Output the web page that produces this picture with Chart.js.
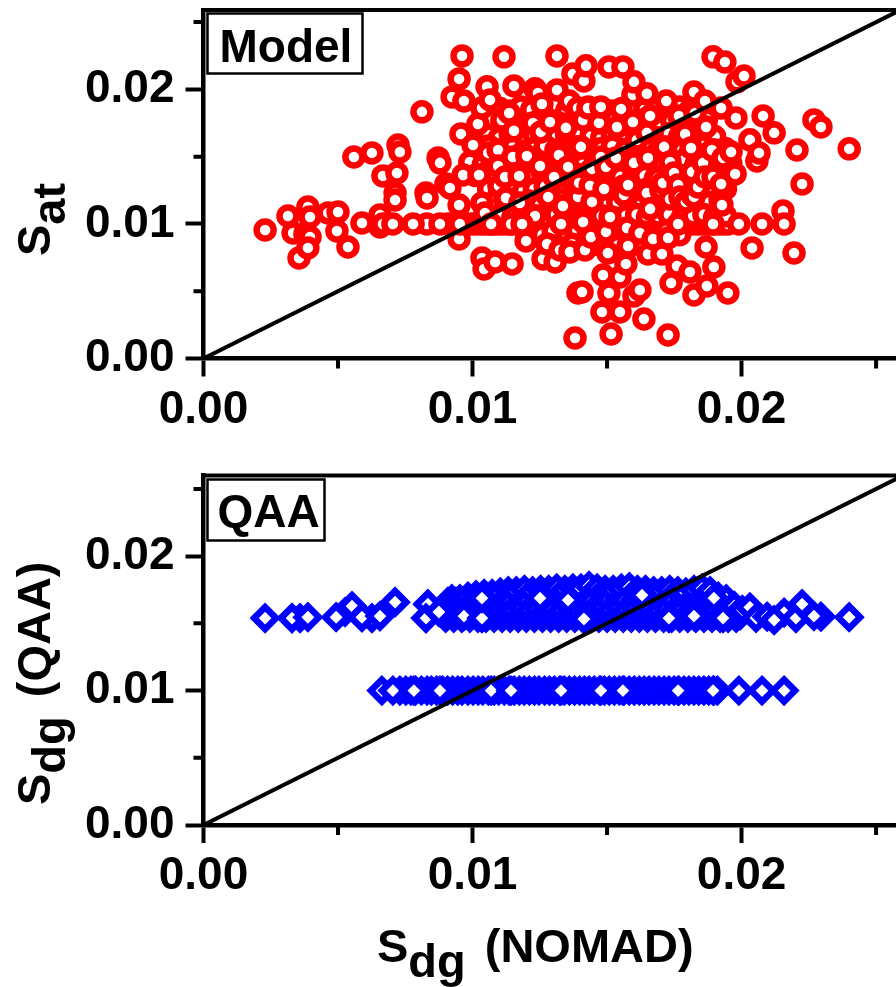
<!DOCTYPE html>
<html>
<head>
<meta charset="utf-8">
<title>Sat and Sdg against NOMAD</title>
<script src="https://cdn.jsdelivr.net/npm/chart.js@4/dist/chart.umd.min.js"></script>
<style>
	html, body { margin: 0; padding: 0; background: #fff; overflow: hidden; }
	canvas { position: absolute; left: 0; }
	#chart-model { top: 0; }
	#chart-qaa { top: 465px; }
</style>
</head>
<body>
<canvas id="chart-model" width="896" height="465"></canvas>
<canvas id="chart-qaa" width="896" height="522"></canvas>
<script>
// Values
const majorTicks = [0, 0.01, 0.02];
const minorTicks = [0.005, 0.015, 0.025];
const oneToOne = [0, 0.026];

const modelX = [
	0.00229, 0.00314, 0.00333, 0.00355, 0.00377, 0.00388, 0.00396, 0.00396, 0.00388, 0.00463,
	0.00500, 0.00496, 0.00537, 0.00589, 0.00559, 0.00626, 0.00656, 0.00656, 0.00667, 0.00719,
	0.00723, 0.00730, 0.00712, 0.00712, 0.00812, 0.00827, 0.00831, 0.00872, 0.00879, 0.00901,
	0.00916, 0.00950, 0.00950, 0.00924, 0.00950, 0.00961, 0.00968, 0.00957, 0.00965, 0.01002,
	0.01020, 0.01024, 0.01035, 0.01035, 0.01035, 0.01043, 0.01046, 0.01054, 0.01065, 0.01058,
	0.01084, 0.01095, 0.01095, 0.01098, 0.01109, 0.01117, 0.01121, 0.01124, 0.01136, 0.01147,
	0.01150, 0.01154, 0.01154, 0.01173, 0.01176, 0.01199, 0.01202, 0.01225, 0.01232, 0.01232,
	0.01243, 0.01251, 0.01254, 0.01258, 0.01262, 0.01277, 0.01281, 0.01288, 0.01303, 0.01307,
	0.01314, 0.01314, 0.01321, 0.01325, 0.01336, 0.01347, 0.01355, 0.01359, 0.01362, 0.01373,
	0.01373, 0.01381, 0.01388, 0.01392, 0.01392, 0.01392, 0.01396, 0.01403, 0.01407, 0.01411,
	0.01411, 0.01414, 0.01418, 0.01422, 0.01429, 0.01437, 0.01440, 0.01444, 0.01444, 0.01470,
	0.01477, 0.01477, 0.01481, 0.01485, 0.01489, 0.01496, 0.01496, 0.01503, 0.01507, 0.01507,
	0.01511, 0.01515, 0.01533, 0.01537, 0.01548, 0.01548, 0.01552, 0.01559, 0.01563, 0.01570,
	0.01574, 0.01578, 0.01578, 0.01596, 0.01596, 0.01600, 0.01600, 0.01600, 0.01611, 0.01622,
	0.01622, 0.01637, 0.01648, 0.01648, 0.01648, 0.01652, 0.01652, 0.01660, 0.01660, 0.01671,
	0.01689, 0.01700, 0.01704, 0.01708, 0.01712, 0.01720, 0.01727, 0.01727, 0.01734, 0.01734,
	0.01738, 0.01749, 0.01760, 0.01764, 0.01767, 0.01771, 0.01790, 0.01793, 0.01808, 0.01812,
	0.01816, 0.01816, 0.01823, 0.01823, 0.01823, 0.01827, 0.01838, 0.01857, 0.01864, 0.01864,
	0.01868, 0.01868, 0.01871, 0.01890, 0.01894, 0.01894, 0.01897, 0.01924, 0.01924, 0.01927,
	0.01931, 0.01938, 0.01949, 0.01961, 0.01976, 0.01979, 0.01983, 0.02009, 0.02031, 0.02039,
	0.02057, 0.02065, 0.02080, 0.02121, 0.02154, 0.02195, 0.02206, 0.02225, 0.02269, 0.02295,
	0.02400
];
const modelY = [
	0.00955, 0.01059, 0.00933, 0.00747, 0.00926, 0.01126, 0.01052, 0.00903, 0.00822, 0.01082,
	0.01089, 0.00948, 0.00829, 0.01007, 0.01498, 0.01528, 0.01067, 0.00978, 0.01357, 0.01379,
	0.01587, 0.01535, 0.01230, 0.01178, 0.01833, 0.01230, 0.01193, 0.01491, 0.01454, 0.01297,
	0.01268, 0.01141, 0.00888, 0.01944, 0.02078, 0.02249, 0.01914, 0.01669, 0.01364, 0.01587,
	0.01743, 0.01364, 0.01862, 0.01156, 0.00747, 0.00665, 0.01082, 0.02019, 0.01922, 0.01528,
	0.00717, 0.01550, 0.01431, 0.01283, 0.01773, 0.02242, 0.01349, 0.01193, 0.01825, 0.00703,
	0.01498, 0.02026, 0.01692, 0.01357, 0.01156, 0.00874, 0.01505, 0.01751, 0.02004, 0.01059,
	0.01974, 0.01431, 0.01684, 0.01892, 0.00740, 0.00851, 0.01201, 0.01758, 0.01349, 0.00717,
	0.02249, 0.01996, 0.01513, 0.00807, 0.01134, 0.01714, 0.01424, 0.01914, 0.00792, 0.02115,
	0.01305, 0.00152, 0.01573, 0.01862, 0.01201, 0.00487, 0.01305, 0.01573, 0.00494, 0.01773,
	0.01015, 0.02063, 0.00807, 0.02175, 0.01862, 0.01283, 0.00903, 0.01409, 0.01164, 0.01751,
	0.01870, 0.01498, 0.00346, 0.00621, 0.01260, 0.01424, 0.00941, 0.00784, 0.02167, 0.00487,
	0.01052, 0.00182, 0.01491, 0.01721, 0.00606, 0.00346, 0.01855, 0.02167, 0.01216, 0.00703,
	0.00970, 0.01290, 0.00836, 0.01959, 0.01758, 0.02056, 0.01454, 0.00465, 0.01625, 0.00933,
	0.00509, 0.00294, 0.01967, 0.01677, 0.01230, 0.01491, 0.00777, 0.01803, 0.01112, 0.00888,
	0.01342, 0.01253, 0.00777, 0.01305, 0.01573, 0.01914, 0.00896, 0.00175, 0.01460, 0.01186,
	0.00561, 0.01379, 0.00688, 0.01290, 0.01803, 0.01201, 0.01669, 0.01164, 0.00643, 0.01565,
	0.01387, 0.01216, 0.01981, 0.01201, 0.00472, 0.01825, 0.01275, 0.01454, 0.01914, 0.01349,
	0.01721, 0.00829, 0.00539, 0.01550, 0.02242, 0.01349, 0.00680, 0.01862, 0.01297, 0.01141,
	0.01491, 0.02204, 0.00487, 0.01535, 0.01372, 0.01788, 0.02056, 0.02100, 0.01625, 0.00822,
	0.01468, 0.01528, 0.01803, 0.01677, 0.01097, 0.00784, 0.01550, 0.01297, 0.01773, 0.01721,
	0.01558
];
// the packed middle of the cloud, estimated, only edges of these show
const modelPackedX = [
	0.0110, 0.0114, 0.0118, 0.0122, 0.0127, 0.0131, 0.0135, 0.0139, 0.0143, 0.0148, 0.0152, 0.0156, 0.0160, 0.0164, 0.0169, 0.0173, 0.0177, 0.0181, 0.0185,
	0.0103, 0.0107, 0.0111, 0.0116, 0.0120, 0.0124, 0.0128, 0.0132, 0.0137, 0.0141, 0.0145, 0.0149, 0.0153, 0.0158, 0.0162, 0.0166, 0.0170, 0.0174, 0.0179, 0.0183, 0.0187,
	0.0106, 0.0110, 0.0114, 0.0119, 0.0123, 0.0127, 0.0131, 0.0135, 0.0140, 0.0144, 0.0148, 0.0152, 0.0156, 0.0161, 0.0165, 0.0169, 0.0173, 0.0177, 0.0182, 0.0186, 0.0190,
	0.0102, 0.0106, 0.0110, 0.0115, 0.0119, 0.0123, 0.0127, 0.0131, 0.0136, 0.0140, 0.0144, 0.0148, 0.0152, 0.0157, 0.0161, 0.0165, 0.0169, 0.0173, 0.0178, 0.0182, 0.0186, 0.0190, 0.0194,
	0.0099, 0.0104, 0.0108, 0.0112, 0.0116, 0.0120, 0.0125, 0.0129, 0.0133, 0.0137, 0.0141, 0.0146, 0.0150, 0.0154, 0.0158, 0.0162, 0.0167, 0.0171, 0.0175, 0.0179, 0.0183, 0.0188, 0.0192, 0.0196,
	0.0101, 0.0105, 0.0109, 0.0113, 0.0118, 0.0122, 0.0126, 0.0130, 0.0134, 0.0139, 0.0143, 0.0147, 0.0151, 0.0155, 0.0160, 0.0164, 0.0168, 0.0172, 0.0176, 0.0181, 0.0185, 0.0189, 0.0193, 0.0197,
	0.0106, 0.0110, 0.0114, 0.0119, 0.0123, 0.0127, 0.0131, 0.0135, 0.0140, 0.0144, 0.0148, 0.0152, 0.0156, 0.0161, 0.0165, 0.0169, 0.0173, 0.0177, 0.0182, 0.0186, 0.0190, 0.0194,
	0.0108, 0.0112, 0.0116, 0.0121, 0.0125, 0.0129, 0.0133, 0.0137, 0.0142, 0.0146, 0.0150, 0.0154, 0.0158, 0.0163, 0.0167, 0.0171, 0.0175, 0.0179, 0.0184, 0.0188, 0.0192,
	0.0110, 0.0115, 0.0119, 0.0123, 0.0127, 0.0131, 0.0136, 0.0140, 0.0144, 0.0148, 0.0152, 0.0157, 0.0161, 0.0165, 0.0169, 0.0173, 0.0178, 0.0182, 0.0186, 0.0190, 0.0194,
	0.0122, 0.0126, 0.0130, 0.0135, 0.0139, 0.0143, 0.0147, 0.0151, 0.0156, 0.0160, 0.0164, 0.0168, 0.0172, 0.0177,
	0.0129, 0.0133, 0.0137, 0.0142, 0.0146, 0.0150, 0.0154, 0.0158, 0.0163, 0.0167, 0.0170
];
const modelPackedY = [
	0.0186, 0.0184, 0.0187, 0.0185, 0.0186, 0.0188, 0.0184, 0.0186, 0.0187, 0.0185, 0.0184, 0.0186, 0.0188, 0.0185, 0.0186, 0.0184, 0.0187, 0.0185, 0.0186,
	0.0176, 0.0178, 0.0175, 0.0177, 0.0174, 0.0176, 0.0178, 0.0175, 0.0176, 0.0177, 0.0174, 0.0176, 0.0178, 0.0175, 0.0177, 0.0176, 0.0174, 0.0177, 0.0175, 0.0176, 0.0178,
	0.0166, 0.0164, 0.0167, 0.0165, 0.0166, 0.0168, 0.0164, 0.0166, 0.0167, 0.0165, 0.0164, 0.0166, 0.0168, 0.0165, 0.0166, 0.0164, 0.0167, 0.0165, 0.0166, 0.0168, 0.0165,
	0.0156, 0.0158, 0.0155, 0.0157, 0.0154, 0.0156, 0.0158, 0.0155, 0.0156, 0.0157, 0.0154, 0.0156, 0.0158, 0.0155, 0.0157, 0.0156, 0.0154, 0.0157, 0.0155, 0.0156, 0.0158, 0.0155, 0.0156,
	0.0146, 0.0144, 0.0147, 0.0145, 0.0146, 0.0148, 0.0144, 0.0146, 0.0147, 0.0145, 0.0144, 0.0146, 0.0148, 0.0145, 0.0146, 0.0144, 0.0147, 0.0145, 0.0146, 0.0148, 0.0144, 0.0146, 0.0147, 0.0145,
	0.0136, 0.0138, 0.0135, 0.0137, 0.0134, 0.0136, 0.0138, 0.0135, 0.0136, 0.0137, 0.0134, 0.0136, 0.0138, 0.0135, 0.0137, 0.0136, 0.0134, 0.0137, 0.0135, 0.0136, 0.0138, 0.0135, 0.0136, 0.0137,
	0.0126, 0.0124, 0.0127, 0.0125, 0.0126, 0.0128, 0.0124, 0.0126, 0.0127, 0.0125, 0.0124, 0.0126, 0.0128, 0.0125, 0.0126, 0.0124, 0.0127, 0.0125, 0.0126, 0.0128, 0.0124, 0.0126,
	0.0116, 0.0118, 0.0115, 0.0117, 0.0114, 0.0116, 0.0118, 0.0115, 0.0116, 0.0117, 0.0114, 0.0116, 0.0118, 0.0115, 0.0117, 0.0116, 0.0114, 0.0117, 0.0115, 0.0116, 0.0118,
	0.0106, 0.0105, 0.0107, 0.0106, 0.0105, 0.0107, 0.0106, 0.0105, 0.0107, 0.0106, 0.0105, 0.0106, 0.0107, 0.0105, 0.0106, 0.0107, 0.0105, 0.0106, 0.0107, 0.0105, 0.0106,
	0.0094, 0.0092, 0.0095, 0.0093, 0.0095, 0.0092, 0.0094, 0.0093, 0.0095, 0.0092, 0.0094, 0.0093, 0.0095, 0.0092,
	0.0084, 0.0082, 0.0085, 0.0083, 0.0085, 0.0082, 0.0084, 0.0083, 0.0085, 0.0082, 0.0084
];
// a long run of points sitting on 0.01, the solid part goes down first
const modelFloorFillX = [
	0.00830, 0.00908, 0.00927, 0.00946, 0.00964, 0.00983, 0.01001, 0.01020, 0.01039,
	0.01057, 0.01076, 0.01094, 0.01113, 0.01132, 0.01150, 0.01169, 0.01187, 0.01206, 0.01225,
	0.01243, 0.01262, 0.01280, 0.01299, 0.01318, 0.01336, 0.01355, 0.01373, 0.01392, 0.01411,
	0.01429, 0.01448, 0.01466, 0.01485, 0.01504, 0.01522, 0.01541, 0.01559, 0.01578, 0.01597,
	0.01615, 0.01634, 0.01652, 0.01671, 0.01690, 0.01708, 0.01727, 0.01745, 0.01764, 0.01783,
	0.01801, 0.01820, 0.01838, 0.01857, 0.01876, 0.01894, 0.01913, 0.01931, 0.01950
];
const modelFloorX = [
	0.00667, 0.00704, 0.00779, 0.00879, 0.00953, 0.01069, 0.01143, 0.01184, 0.01329, 0.01764,
	0.01894, 0.01990, 0.02076, 0.02158
];
const modelFloorY = 0.01;

const qaaLowFillX = [
	0.00730, 0.00752, 0.00771, 0.00788, 0.00810, 0.00831, 0.00847, 0.00866, 0.00888, 0.00907,
	0.00926, 0.00945, 0.00961, 0.00983, 0.01002, 0.01021, 0.01038, 0.01059, 0.01080, 0.01097,
	0.01118, 0.01136, 0.01155, 0.01174, 0.01192, 0.01211, 0.01230, 0.01247, 0.01268, 0.01286,
	0.01304, 0.01324, 0.01341, 0.01360, 0.01379, 0.01398, 0.01416, 0.01433, 0.01452, 0.01472,
	0.01490, 0.01508, 0.01527, 0.01546, 0.01563, 0.01582, 0.01601, 0.01620, 0.01638, 0.01656,
	0.01675, 0.01693, 0.01712, 0.01730, 0.01749, 0.01767, 0.01786, 0.01804, 0.01823, 0.01841,
	0.01860, 0.01878, 0.01897, 0.01910
];
const qaaLowX = [
	0.00663, 0.00704, 0.00782, 0.00879, 0.01069, 0.01143, 0.01329, 0.01477, 0.01559, 0.01764,
	0.01894, 0.01990, 0.02076, 0.02158
];
const qaaLowY = 0.01;

const qaaHighFillX = [
	0.00329, 0.00359, 0.00526, 0.00552, 0.00589, 0.00626, 0.00656, 0.00712, 0.00827, 0.00834,
	0.00900, 0.00908, 0.00915, 0.00923, 0.00930, 0.00938, 0.00945, 0.00953,
	0.00960, 0.00968, 0.00975, 0.00983, 0.00990, 0.00998, 0.01005, 0.01013,
	0.01020, 0.01028, 0.01035, 0.01043, 0.01050, 0.01058, 0.01065, 0.01073,
	0.01080, 0.01088, 0.01095, 0.01103, 0.01110, 0.01118, 0.01125, 0.01133,
	0.01140, 0.01148, 0.01155, 0.01163, 0.01170, 0.01178, 0.01185, 0.01193,
	0.01200, 0.01208, 0.01215, 0.01223, 0.01230, 0.01238, 0.01245, 0.01253,
	0.01260, 0.01268, 0.01275, 0.01283, 0.01290, 0.01298, 0.01305, 0.01313,
	0.01320, 0.01328, 0.01335, 0.01343, 0.01350, 0.01358, 0.01365, 0.01373,
	0.01380, 0.01388, 0.01395, 0.01403, 0.01410, 0.01418, 0.01425, 0.01433,
	0.01440, 0.01448, 0.01455, 0.01463, 0.01470, 0.01478, 0.01485, 0.01493,
	0.01500, 0.01508, 0.01515, 0.01523, 0.01530, 0.01538, 0.01545, 0.01553,
	0.01560, 0.01568, 0.01575, 0.01583, 0.01590, 0.01598, 0.01605, 0.01613,
	0.01620, 0.01628, 0.01635, 0.01643, 0.01650, 0.01658, 0.01665, 0.01673,
	0.01680, 0.01688, 0.01695, 0.01703, 0.01710, 0.01718, 0.01725, 0.01733,
	0.01740, 0.01748, 0.01755, 0.01763, 0.01770, 0.01778, 0.01785, 0.01793,
	0.01800, 0.01808, 0.01815, 0.01823, 0.01830, 0.01838, 0.01845, 0.01853,
	0.01860, 0.01868, 0.01875, 0.01883, 0.01890, 0.01898, 0.01905, 0.01913,
	0.01920, 0.01928, 0.01935, 0.01943, 0.01950, 0.01958, 0.01965, 0.01973,
	0.01980, 0.01988, 0.01995, 0.02003, 0.02031, 0.02054, 0.02095, 0.02158, 0.02295
];
const qaaHighFillY = [
	0.01539, 0.01539, 0.01584, 0.01628, 0.01546, 0.01539, 0.01554, 0.01658, 0.01539, 0.01643,
	0.0154, 0.0166, 0.0160, 0.0168, 0.0154, 0.0166, 0.0160, 0.0168,
	0.0154, 0.0166, 0.0160, 0.0170, 0.0154, 0.0165, 0.0160, 0.0171,
	0.0154, 0.0166, 0.0160, 0.0172, 0.0154, 0.0167, 0.0161, 0.0172,
	0.0154, 0.0166, 0.0160, 0.0173, 0.0154, 0.0167, 0.0160, 0.0174,
	0.0154, 0.0167, 0.0160, 0.0174, 0.0154, 0.0166, 0.0161, 0.0175,
	0.0154, 0.0167, 0.0160, 0.0174, 0.0154, 0.0166, 0.0161, 0.0175,
	0.0154, 0.0167, 0.0160, 0.0175, 0.0154, 0.0166, 0.0161, 0.0176,
	0.0154, 0.0167, 0.0160, 0.0175, 0.0154, 0.0166, 0.0161, 0.0176,
	0.0154, 0.0167, 0.0160, 0.0176, 0.0154, 0.0166, 0.0161, 0.0178,
	0.0154, 0.0167, 0.0160, 0.0176, 0.0154, 0.0166, 0.0161, 0.0175,
	0.0154, 0.0167, 0.0160, 0.0175, 0.0154, 0.0166, 0.0161, 0.0176,
	0.0154, 0.0167, 0.0160, 0.0177, 0.0154, 0.0166, 0.0161, 0.0175,
	0.0154, 0.0167, 0.0160, 0.0175, 0.0154, 0.0166, 0.0161, 0.0174,
	0.0154, 0.0167, 0.0160, 0.0174, 0.0154, 0.0166, 0.0161, 0.0175,
	0.0154, 0.0167, 0.0160, 0.0174, 0.0154, 0.0166, 0.0161, 0.0173,
	0.0154, 0.0166, 0.0160, 0.0175, 0.0154, 0.0166, 0.0161, 0.0176,
	0.0154, 0.0165, 0.0160, 0.0174, 0.0154, 0.0164, 0.0160, 0.0170,
	0.0154, 0.0163, 0.0158, 0.0168, 0.0154, 0.0161, 0.0157, 0.0163,
	0.0154, 0.0158, 0.0156, 0.0160, 0.0162, 0.0154, 0.0155, 0.0158, 0.0155
];
const qaaHighX = [
	0.00229, 0.00329, 0.00388, 0.00493, 0.00589, 0.00656, 0.00712, 0.00827, 0.00875, 0.00968,
	0.01035, 0.01035, 0.01251, 0.01355, 0.01414, 0.01630, 0.01730, 0.01823, 0.01897, 0.01931,
	0.02121, 0.02202, 0.02225, 0.02269, 0.02400
];
const qaaHighY = [
	0.01539, 0.01539, 0.01546, 0.01546, 0.01546, 0.01554, 0.01658, 0.01539, 0.01584, 0.01554,
	0.01539, 0.01688, 0.01688, 0.01673, 0.01532, 0.01710, 0.01539, 0.01554, 0.01688, 0.01539,
	0.01524, 0.01539, 0.01643, 0.01554, 0.01546
];

const panelLabels = ["Model", "QAA"];
// [text, baseline shift, gap in front]
const yTitles = [
	[["S", 0, 0], ["at", 15, 0]],
	[["S", 0, 0], ["dg", 15, 0], ["(QAA)", 0, 19]],
];
const xTitle = [["S", 0, 0], ["dg", 15, 0], ["(NOMAD)", 0, 19]];

const FONT = '"Liberation Sans", Arial, sans-serif';
const bold46 = `bold 46px ${FONT}`;
const bold47 = `bold 47px ${FONT}`;

function toPoints(xs, ys) {
	return xs.map((x, i) => ({ x: x, y: Array.isArray(ys) ? ys[i] : ys }));
}

// writes a title made of pieces, used for the subscripts
function drawPieces(ctx, pieces, x, y) {
	ctx.font = bold47;
	ctx.textAlign = "left";
	ctx.textBaseline = "alphabetic";
	ctx.fillStyle = "#000";
	pieces.forEach(([text, shift, gap]) => {
		x += gap;
		ctx.fillText(text, x, y + shift);
		x += ctx.measureText(text).width;
	});
}

// chart.js only has one tick length, the short ticks and the frame go in here
const framePlugin = {
	id: "frame",
	afterDraw(chart, args, opts) {
		const ctx = chart.ctx;
		const { left, right, top, bottom } = chart.chartArea;
		ctx.save();
		ctx.strokeStyle = "#000";
		ctx.lineWidth = 4;
		ctx.beginPath();
		ctx.moveTo(left - 2, top);
		ctx.lineTo(right, top);
		minorTicks.forEach((v) => {
			const px = chart.scales.x.getPixelForValue(v);
			const py = chart.scales.y.getPixelForValue(v);
			ctx.moveTo(px, bottom);
			ctx.lineTo(px, bottom + 10);
			ctx.moveTo(left, py);
			ctx.lineTo(left - 10, py);
		});
		ctx.stroke();

		// panel label
		ctx.fillStyle = "#fff";
		ctx.lineWidth = 2.5;
		ctx.fillRect(left + opts.box[0], top + opts.box[1], opts.box[2], opts.box[3]);
		ctx.strokeRect(left + opts.box[0], top + opts.box[1], opts.box[2], opts.box[3]);
		ctx.fillStyle = "#000";
		ctx.font = bold46;
		ctx.textAlign = "left";
		ctx.textBaseline = "alphabetic";
		ctx.fillText(opts.label, left + opts.box[0] + opts.textAt[0], top + opts.box[1] + opts.textAt[1]);

		// y title, turned
		ctx.save();
		ctx.translate(opts.yTitleAt[0], opts.yTitleAt[1]);
		ctx.rotate(-Math.PI / 2);
		drawPieces(ctx, opts.yTitle, 0, 0);
		ctx.restore();

		if (opts.xTitle) drawPieces(ctx, opts.xTitle, opts.xTitleAt[0], opts.xTitleAt[1]);
		ctx.restore();
	},
};

function noPadding(s) {
	s.paddingTop = 0;
	s.paddingBottom = 0;
	s.paddingLeft = 0;
	s.paddingRight = 0;
}

function makeChart(id, marks, frame, topPad, xHeight, yMax) {
	const tickOptions = {
		color: "#000",
		font: { family: FONT, size: 46, weight: "bold" },
		maxRotation: 0,
		callback: (v) => v.toFixed(2),
	};
	const gridOptions = { drawOnChartArea: false, tickLength: 18, tickWidth: 4, tickColor: "#000" };
	const borderOptions = { display: true, color: "#000", width: 4.5 };
	return new Chart(document.getElementById(id), {
		type: "scatter",
		data: {
			datasets: [
				{
					data: toPoints(oneToOne, oneToOne),
					showLine: true,
					borderColor: "#000",
					borderWidth: 4,
					pointRadius: 0,
					order: 0,
				},
				...marks,
			],
		},
		plugins: [framePlugin],
		options: {
			responsive: false,
			animation: false,
			layout: { autoPadding: false, padding: { top: topPad, left: 0, right: 0, bottom: 0 } },
			plugins: { legend: { display: false }, tooltip: { enabled: false }, frame: frame },
			scales: {
				x: {
					type: "linear",
					min: 0,
					max: 0.02574,
					grid: gridOptions,
					border: borderOptions,
					ticks: { ...tickOptions, padding: 6 },
					afterBuildTicks: (s) => { s.ticks = majorTicks.map((v) => ({ value: v })); },
					afterFit: (s) => { s.height = xHeight; noPadding(s); },
				},
				y: {
					type: "linear",
					min: 0,
					max: yMax,
					grid: gridOptions,
					border: borderOptions,
					ticks: { ...tickOptions, padding: 11 },
					afterBuildTicks: (s) => { s.ticks = majorTicks.map((v) => ({ value: v })); },
					afterFit: (s) => { s.width = 203.5; noPadding(s); },
				},
			},
		},
	});
}

// the symbols are white inside, so the later ones hide the earlier ones
const ringStyle = {
	pointStyle: "circle",
	pointRadius: 8.5,
	borderColor: "#ff0000",
	backgroundColor: "#ffffff",
	borderWidth: 6.5,
};
const diamondStyle = {
	pointStyle: "rectRot",
	pointRadius: 11,
	borderColor: "#0000ff",
	backgroundColor: "#ffffff",
	borderWidth: 6.5,
};

makeChart(
	"chart-model",
	[
		{ data: toPoints(modelFloorFillX, modelFloorY), ...ringStyle, order: 4 },
		{ data: toPoints(modelPackedX, modelPackedY), ...ringStyle, order: 3 },
		{ data: toPoints(modelX, modelY), ...ringStyle, order: 2 },
		{ data: toPoints(modelFloorX, modelFloorY), ...ringStyle, order: 1 },
	],
	{
		label: panelLabels[0],
		box: [4, 3.5, 155, 60],
		textAt: [12, 48.5],
		yTitle: yTitles[0],
		yTitleAt: [50, 256],
	},
	10, 106.5, 0.0259
);

makeChart(
	"chart-qaa",
	[
		{ data: toPoints(qaaLowFillX, qaaLowY), ...diamondStyle, order: 4 },
		{ data: toPoints(qaaLowX, qaaLowY), ...diamondStyle, order: 3 },
		{ data: toPoints(qaaHighFillX, qaaHighFillY), ...diamondStyle, order: 2 },
		{ data: toPoints(qaaHighX, qaaHighY), ...diamondStyle, order: 1 },
	],
	{
		label: panelLabels[1],
		box: [4, 4, 117, 61],
		textAt: [10, 47.5],
		yTitle: yTitles[1],
		yTitleAt: [50, 340],
		xTitle: xTitle,
		xTitleAt: [377, 497],
	},
	10.5, 162, 0.026
);
</script>
</body>
</html>
